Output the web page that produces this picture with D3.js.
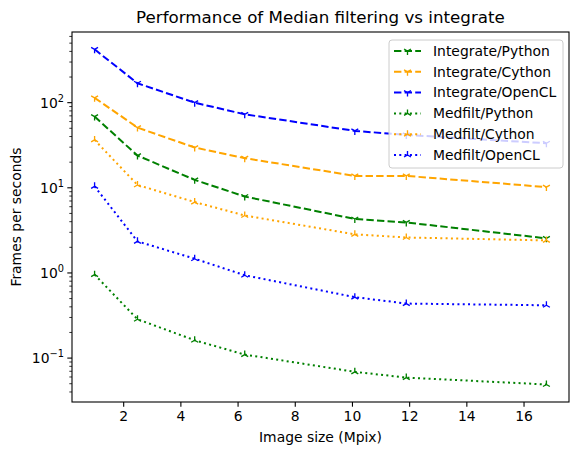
<!DOCTYPE html>
<html>
<head>
<meta charset="utf-8">
<script src="https://cdn.jsdelivr.net/npm/d3@7"></script>
<style>
  body { margin: 0; background: #fff; }
  svg { font-family: "DejaVu Sans", sans-serif; }
</style>
</head>
<body>
<div id="chart"></div>
<script>
// image sizes (Mpix)
const sizes = [1.0, 2.5, 4.5, 6.25, 10.1, 11.9, 16.8];

// frames per second for each method
const integratePython = [68.6, 23.9, 12.4, 7.9, 4.3, 3.92, 2.55];
const integrateCython = [114, 51, 29.7, 22.3, 13.8, 13.8, 10.2];
const integrateOpenCL = [423, 169, 100, 73, 46.6, 41.8, 33.4];
const medfiltPython = [0.955, 0.286, 0.162, 0.110, 0.069, 0.059, 0.049];
const medfiltCython = [36.5, 10.8, 6.8, 4.73, 2.84, 2.61, 2.41];
const medfiltOpenCL = [10.4, 2.35, 1.47, 0.94, 0.52, 0.437, 0.417];

const seriesNames = ["Integrate/Python", "Integrate/Cython", "Integrate/OpenCL",
                     "Medfilt/Python", "Medfilt/Cython", "Medfilt/OpenCL"];
const xTicks = [2, 4, 6, 8, 10, 12, 14, 16];
const yMajor = [-1, 0, 1, 2];

const series = [
  { name: seriesNames[0], values: integratePython, color: "green", style: "dash", marker: "down" },
  { name: seriesNames[1], values: integrateCython, color: "orange", style: "dash", marker: "down" },
  { name: seriesNames[2], values: integrateOpenCL, color: "blue", style: "dash", marker: "down" },
  { name: seriesNames[3], values: medfiltPython, color: "green", style: "dot", marker: "up" },
  { name: seriesNames[4], values: medfiltCython, color: "orange", style: "dot", marker: "up" },
  { name: seriesNames[5], values: medfiltOpenCL, color: "blue", style: "dot", marker: "up" }
];

const width = 578, height = 455;
const margin = { left: 72, right: 9, top: 32, bottom: 53 };
const fs = 13.9;

const svg = d3.select("#chart").append("svg")
  .attr("width", width)
  .attr("height", height);

const x = d3.scaleLinear()
  .domain([0.21, 17.59])
  .range([margin.left, width - margin.right]);

const y = d3.scaleLog()
  .domain([0.0305, 676])
  .range([height - margin.bottom, margin.top]);

const dashes = { dash: "7.4,3.2", dot: "2,3.3" };

function markerPath(type) {
  const r = 4, a = r * 0.866, b = r * 0.5;
  if (type === "down") return `M0,0L0,${r}M0,0L${-a},${-b}M0,0L${a},${-b}`;
  return `M0,0L0,${-r}M0,0L${-a},${b}M0,0L${a},${b}`;
}

// x axis
const xAxis = svg.append("g")
  .attr("transform", `translate(0,${height - margin.bottom})`)
  .call(d3.axisBottom(x).tickValues(xTicks).tickSize(4.7).tickPadding(4.5).tickFormat(d3.format("d")));
xAxis.select(".domain").remove();
xAxis.selectAll("text").attr("font-size", fs).attr("fill", "#000").attr("font-family", "DejaVu Sans");
xAxis.selectAll("line").attr("stroke-width", 1.1);

// y axis: major and minor ticks
const minor = [];
for (let e = -2; e <= 2; e++) {
  for (let k = 2; k <= 9; k++) {
    const v = k * Math.pow(10, e);
    if (v >= y.domain()[0] && v <= y.domain()[1]) minor.push(v);
  }
}
const yAxisG = svg.append("g").attr("transform", `translate(${margin.left},0)`);
yAxisG.selectAll(".minor")
  .data(minor)
  .join("line")
  .attr("x1", -2.7).attr("x2", 0)
  .attr("y1", d => y(d)).attr("y2", d => y(d))
  .attr("stroke", "#000").attr("stroke-width", 0.8);
yAxisG.selectAll(".major")
  .data(yMajor)
  .join("line")
  .attr("x1", -4.7).attr("x2", 0)
  .attr("y1", d => y(Math.pow(10, d))).attr("y2", d => y(Math.pow(10, d)))
  .attr("stroke", "#000").attr("stroke-width", 1.1);
const yLabels = yAxisG.selectAll(".ylab")
  .data(yMajor)
  .join("text")
  .attr("x", -8)
  .attr("y", d => y(Math.pow(10, d)) + 5)
  .attr("text-anchor", "end")
  .attr("font-size", fs);
yLabels.append("tspan").text("10");
yLabels.append("tspan")
  .attr("dy", -6)
  .attr("font-size", 9.8)
  .text(d => d < 0 ? "\u2212" + Math.abs(d) : d);

// lines and markers
const line = d3.line()
  .x((d, i) => x(sizes[i]))
  .y(d => y(d));

const plot = svg.append("g");
series.forEach(s => {
  plot.append("path")
    .datum(s.values)
    .attr("d", line)
    .attr("fill", "none")
    .attr("stroke", s.color)
    .attr("stroke-width", 2)
    .attr("stroke-dasharray", dashes[s.style]);
  plot.selectAll(null)
    .data(s.values)
    .join("path")
    .attr("transform", (d, i) => `translate(${x(sizes[i])},${y(d)})`)
    .attr("d", markerPath(s.marker))
    .attr("fill", "none")
    .attr("stroke", s.color)
    .attr("stroke-width", 1.33);
});

// frame
svg.append("rect")
  .attr("x", margin.left)
  .attr("y", margin.top)
  .attr("width", width - margin.left - margin.right)
  .attr("height", height - margin.top - margin.bottom)
  .attr("fill", "none")
  .attr("stroke", "#000")
  .attr("stroke-width", 1.1);

// title and axis labels
svg.append("text")
  .attr("x", (margin.left + width - margin.right) / 2)
  .attr("y", 23)
  .attr("text-anchor", "middle")
  .attr("font-size", 16.7)
  .text("Performance of Median filtering vs integrate");

svg.append("text")
  .attr("x", (margin.left + width - margin.right) / 2)
  .attr("y", 442)
  .attr("text-anchor", "middle")
  .attr("font-size", fs)
  .text("Image size (Mpix)");

svg.append("text")
  .attr("transform", `translate(21,${(margin.top + height - margin.bottom) / 2}) rotate(-90)`)
  .attr("text-anchor", "middle")
  .attr("font-size", fs)
  .text("Frames per seconds");

// legend
const legend = svg.append("g").attr("transform", "translate(389,40)");
legend.append("rect")
  .attr("width", 174)
  .attr("height", 128)
  .attr("rx", 3)
  .attr("fill", "#fff")
  .attr("fill-opacity", 0.8)
  .attr("stroke", "#ccc")
  .attr("stroke-width", 1);

const item = legend.selectAll(".item")
  .data(series)
  .join("g")
  .attr("transform", (d, i) => `translate(5,${11 + i * 20.8})`);
item.append("line")
  .attr("x1", 0).attr("x2", 27)
  .attr("stroke", d => d.color)
  .attr("stroke-width", 2)
  .attr("stroke-dasharray", d => dashes[d.style]);
item.append("path")
  .attr("transform", "translate(13.5,0)")
  .attr("d", d => markerPath(d.marker))
  .attr("fill", "none")
  .attr("stroke", d => d.color)
  .attr("stroke-width", 1.33);
item.append("text")
  .attr("x", 39)
  .attr("y", 4.8)
  .attr("font-size", fs)
  .text(d => d.name);
</script>
</body>
</html>
